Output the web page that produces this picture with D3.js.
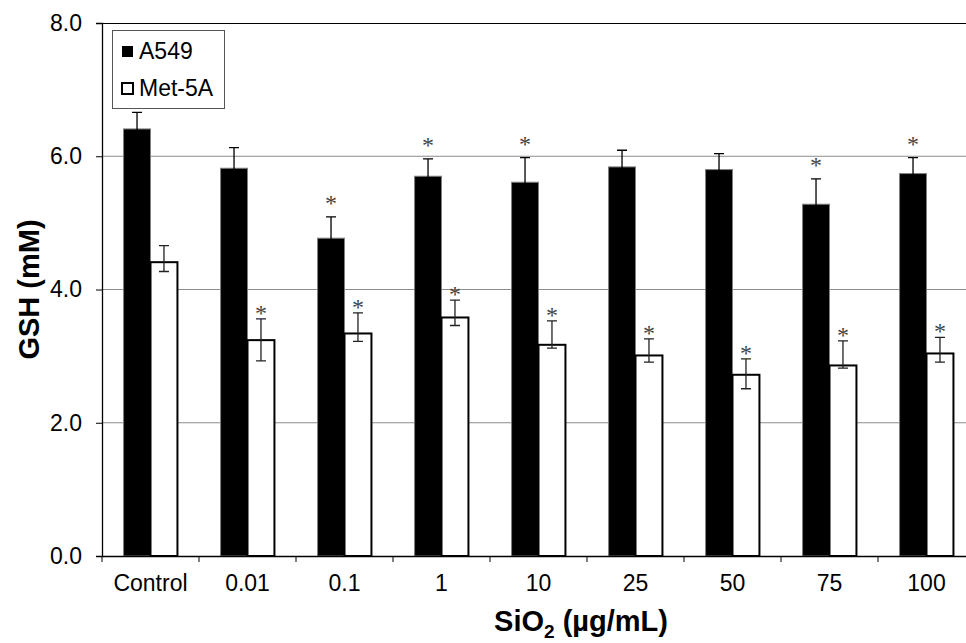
<!DOCTYPE html>
<html>
<head>
<meta charset="utf-8">
<script src="https://cdn.jsdelivr.net/npm/d3@7"></script>
<style>
    body { margin: 0; background: #fff; }
    svg { display: block; font-family: Arial, "Liberation Sans", sans-serif; }
</style>
</head>
<body>
<div id="chart"></div>
<script>
// values
const categories = ["Control", "0.01", "0.1", "1", "10", "25", "50", "75", "100"];
const seriesNames = ["A549", "Met-5A"];
const a549 = [6.41, 5.82, 4.77, 5.70, 5.61, 5.84, 5.80, 5.28, 5.74];
const a549Err = [0.25, 0.31, 0.32, 0.26, 0.37, 0.25, 0.24, 0.38, 0.24];
const met5a = [4.41, 3.24, 3.34, 3.58, 3.17, 3.01, 2.72, 2.86, 3.04];
const metErrUp = [0.25, 0.32, 0.31, 0.26, 0.36, 0.25, 0.24, 0.37, 0.24];
const metErrDn = [0.14, 0.31, 0.12, 0.12, 0.05, 0.10, 0.21, 0.04, 0.13];
const a549Sig = [false, false, true, true, true, false, false, true, true];
const metSig = [false, true, true, true, true, true, true, true, true];
const yTicks = [0, 2, 4, 6, 8];

const svgWidth = 966, svgHeight = 643;
const plot = { left: 102, right: 975, top: 23, bottom: 556 };

const svg = d3.select("#chart")
    .append("svg")
    .attr("width", svgWidth)
    .attr("height", svgHeight);

const x = d3.scaleBand()
    .domain(categories)
    .range([plot.left, plot.right])
    .padding(0);

const x1 = d3.scaleBand()
    .domain(seriesNames)
    .range([0, x.bandwidth()])
    .paddingInner(0)
    .paddingOuter(0.8);

const y = d3.scaleLinear()
    .domain([0, 8])
    .range([plot.bottom, plot.top]);

// gridlines
svg.append("g")
    .selectAll("line")
    .data(yTicks.filter(d => d > 0 && d < 8))
    .enter().append("line")
    .attr("x1", plot.left)
    .attr("x2", plot.right)
    .attr("y1", d => y(d))
    .attr("y2", d => y(d))
    .attr("stroke", "#8c8c8c")
    .attr("stroke-width", 1);

// plot area border (top / right)
svg.append("path")
    .attr("d", `M${plot.left},${y(8) + 0.5}H${plot.right}V${plot.bottom}`)
    .attr("fill", "none")
    .attr("stroke", "#000")
    .attr("stroke-width", 1);

const rows = categories.map((c, i) => ({
    cat: c,
    a: a549[i], aErr: a549Err[i], aSig: a549Sig[i],
    m: met5a[i], mUp: metErrUp[i], mDn: metErrDn[i], mSig: metSig[i]
}));

const groups = svg.append("g")
    .selectAll("g")
    .data(rows)
    .enter().append("g")
    .attr("transform", d => `translate(${x(d.cat)},0)`);

const bw = x1.bandwidth();

// A549 bars
groups.append("rect")
    .attr("x", x1("A549"))
    .attr("y", d => y(d.a))
    .attr("width", bw)
    .attr("height", d => y(0) - y(d.a))
    .attr("fill", "#000")
    .attr("stroke", "#7f7f7f")
    .attr("stroke-width", 1);

// Met-5A bars
groups.append("rect")
    .attr("x", x1("Met-5A"))
    .attr("y", d => y(d.m))
    .attr("width", bw)
    .attr("height", d => y(0) - y(d.m))
    .attr("fill", "#fff")
    .attr("stroke", "#000")
    .attr("stroke-width", 2);

// error bars
const cap = 5;
function errorBar(sel, cx, hi, lo, col) {
    sel.append("path")
        .attr("d", d => {
            const xc = cx, y1 = y(hi(d)), y2 = y(lo(d));
            return `M${xc},${y1}V${y2}M${xc - cap},${y1}H${xc + cap}M${xc - cap},${y2}H${xc + cap}`;
        })
        .attr("fill", "none")
        .attr("stroke", col)
        .attr("stroke-width", 1.3);
}
errorBar(groups, x1("A549") + bw / 2, d => d.a + d.aErr, d => d.a - d.aErr, "#000");
errorBar(groups, x1("Met-5A") + bw / 2, d => d.m + d.mUp, d => d.m - d.mDn, "#222");

// significance stars
groups.filter(d => d.aSig).append("text")
    .attr("x", x1("A549") + bw / 2)
    .attr("y", d => y(d.a + d.aErr) - 6)
    .attr("text-anchor", "middle")
    .style("font-family", "'Liberation Serif', 'Times New Roman', serif")
    .style("font-size", "24px")
    .style("fill", "#444")
    .text("*");

groups.filter(d => d.mSig).append("text")
    .attr("x", x1("Met-5A") + bw / 2)
    .attr("y", d => y(d.m + d.mUp) + 2)
    .attr("text-anchor", "middle")
    .style("font-family", "'Liberation Serif', 'Times New Roman', serif")
    .style("font-size", "24px")
    .style("fill", "#444")
    .text("*");

// y axis
const yAxis = svg.append("g")
    .attr("transform", `translate(${plot.left},0)`)
    .call(d3.axisLeft(y).tickValues(yTicks).tickFormat(d3.format(".1f")).tickSizeOuter(0).tickSize(6).tickPadding(14));
yAxis.select(".domain").attr("stroke", "#000").attr("stroke-width", 1.3);
yAxis.selectAll(".tick line").attr("stroke", "#000");
yAxis.selectAll("text")
    .style("font-size", "23px")
    .style("font-family", "Arial, 'Liberation Sans', sans-serif")
    .attr("fill", "#000");

// x axis: labels at band centres, ticks at band edges
const xAxis = svg.append("g")
    .attr("transform", `translate(0,${plot.bottom})`)
    .call(d3.axisBottom(x).tickSize(0).tickPadding(19).tickSizeOuter(0));
xAxis.select(".domain").attr("stroke", "#000").attr("stroke-width", 1.3);
xAxis.selectAll("text")
    .style("font-size", "23px")
    .style("font-family", "Arial, 'Liberation Sans', sans-serif")
    .attr("fill", "#000");

xAxis.append("g")
    .selectAll("line")
    .data(categories)
    .enter().append("line")
    .attr("x1", d => x(d))
    .attr("x2", d => x(d))
    .attr("y1", 0)
    .attr("y2", 6)
    .attr("stroke", "#000");

// axis titles
const xTitle = svg.append("text")
    .attr("x", 581)
    .attr("y", 631)
    .attr("text-anchor", "middle")
    .style("font-size", "29px")
    .style("font-weight", "bold");
xTitle.append("tspan").text("SiO");
xTitle.append("tspan").attr("dy", 7).style("font-size", "19px").text("2");
xTitle.append("tspan").attr("dy", -7).text(" (µg/mL)");

svg.append("text")
    .attr("transform", `translate(39,${(plot.top + plot.bottom) / 2}) rotate(-90)`)
    .attr("text-anchor", "middle")
    .style("font-size", "29px")
    .style("font-weight", "bold")
    .text("GSH (mM)");

// legend
const legend = svg.append("g").attr("transform", "translate(112,30)");
legend.append("rect")
    .attr("x", 0.5).attr("y", 0.5)
    .attr("width", 112).attr("height", 78)
    .attr("fill", "#fff")
    .attr("stroke", "#555")
    .attr("stroke-width", 1);

const legendItems = legend.selectAll("g.item")
    .data(seriesNames)
    .enter().append("g")
    .attr("class", "item")
    .attr("transform", (d, i) => `translate(10,${16 + i * 37})`);

legendItems.append("rect")
    .attr("width", 11)
    .attr("height", 11)
    .attr("fill", d => d === "A549" ? "#000" : "#fff")
    .attr("stroke", "#000")
    .attr("stroke-width", d => d === "A549" ? 0 : 2);

legendItems.append("text")
    .attr("x", 17)
    .attr("y", 13)
    .style("font-size", "23px")
    .text(d => d);
</script>
</body>
</html>
